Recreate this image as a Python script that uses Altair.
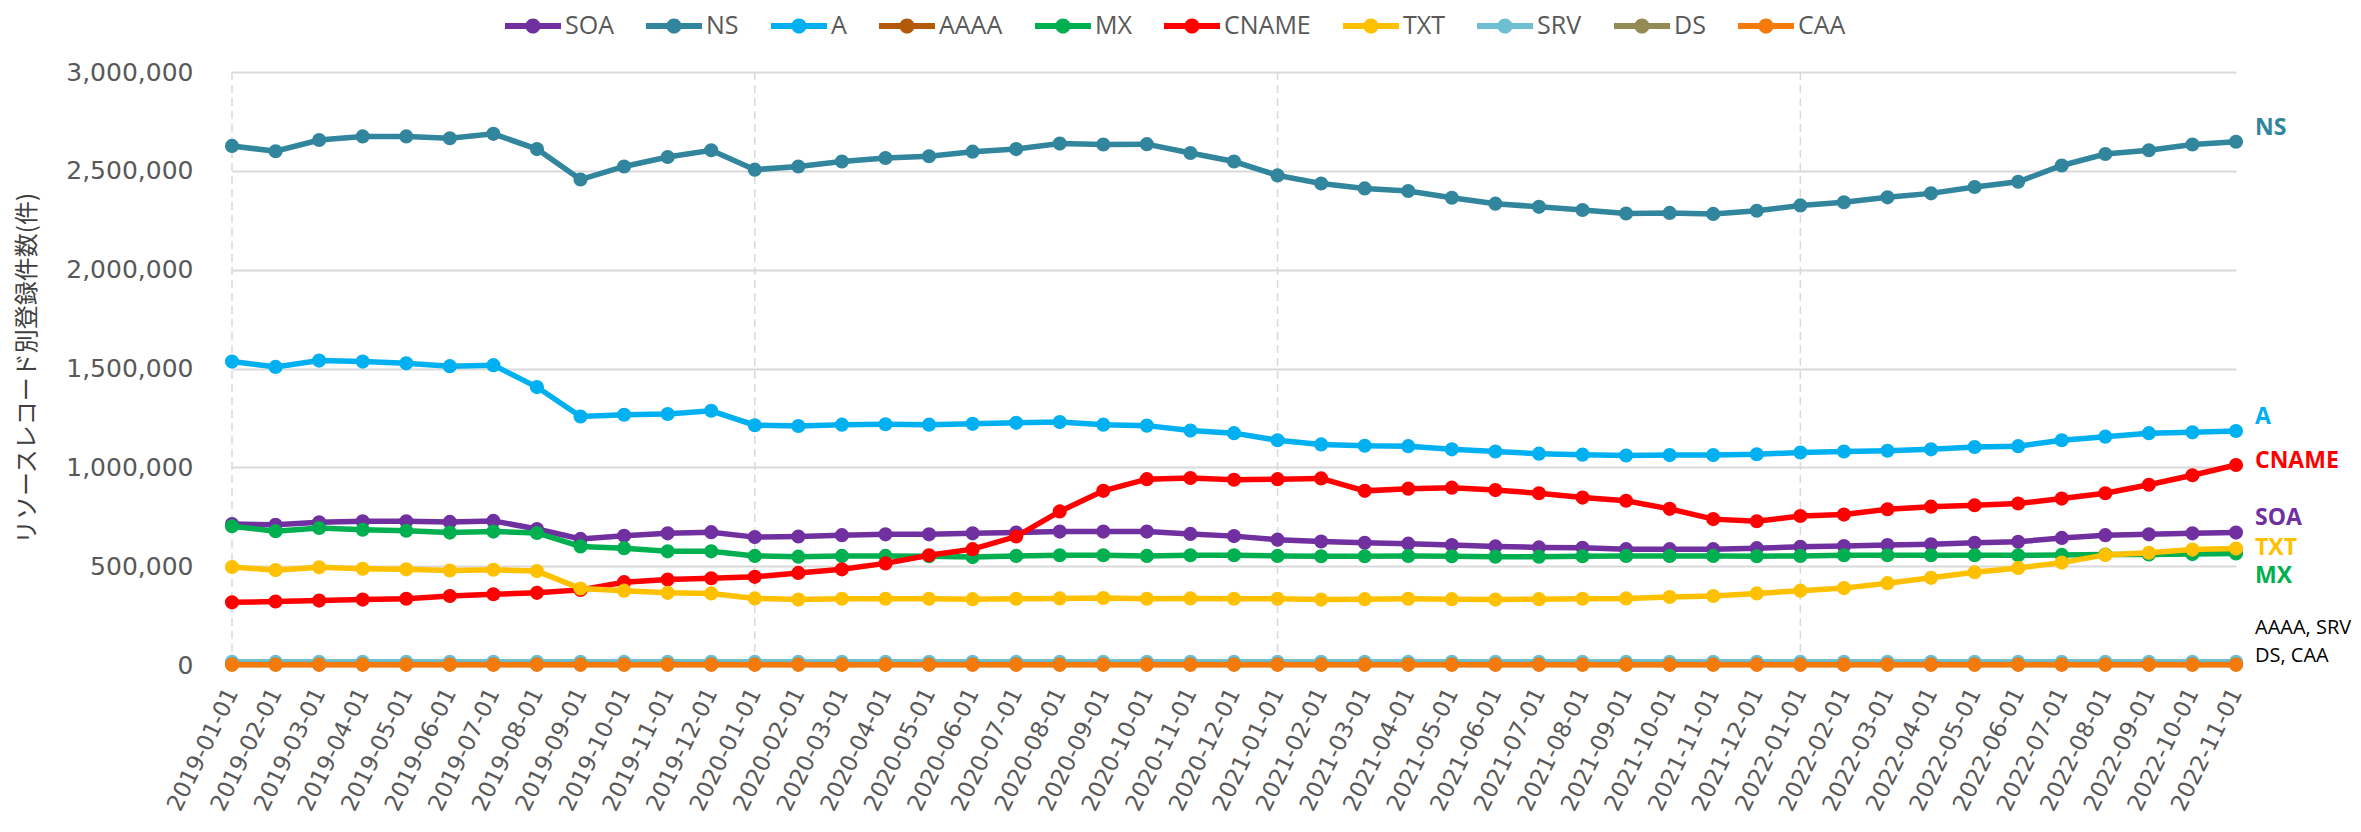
import altair as alt
import pandas as pd

dates = [
    "2019-01-01", "2019-02-01", "2019-03-01", "2019-04-01", "2019-05-01", "2019-06-01",
    "2019-07-01", "2019-08-01", "2019-09-01", "2019-10-01", "2019-11-01", "2019-12-01",
    "2020-01-01", "2020-02-01", "2020-03-01", "2020-04-01", "2020-05-01", "2020-06-01",
    "2020-07-01", "2020-08-01", "2020-09-01", "2020-10-01", "2020-11-01", "2020-12-01",
    "2021-01-01", "2021-02-01", "2021-03-01", "2021-04-01", "2021-05-01", "2021-06-01",
    "2021-07-01", "2021-08-01", "2021-09-01", "2021-10-01", "2021-11-01", "2021-12-01",
    "2022-01-01", "2022-02-01", "2022-03-01", "2022-04-01", "2022-05-01", "2022-06-01",
    "2022-07-01", "2022-08-01", "2022-09-01", "2022-10-01", "2022-11-01",
]

SOA = [713000, 709000, 722000, 727000, 727000, 724000, 729000, 688000, 638000, 654000, 666000, 672000,
       647000, 650000, 657000, 661000, 661000, 666000, 670000, 675000, 675000, 675000, 663000, 652000,
       634000, 625000, 618000, 614000, 607000, 600000, 595000, 593000, 586000, 586000, 586000, 591000,
       598000, 602000, 607000, 611000, 618000, 623000, 643000, 657000, 661000, 666000, 670000]
NS = [2626000, 2599000, 2656000, 2674000, 2674000, 2665000, 2687000, 2610000, 2456000, 2522000, 2570000, 2604000,
      2506000, 2522000, 2547000, 2565000, 2574000, 2597000, 2610000, 2638000, 2633000, 2635000, 2590000, 2547000,
      2477000, 2436000, 2411000, 2398000, 2364000, 2334000, 2318000, 2302000, 2284000, 2287000, 2282000, 2298000,
      2325000, 2341000, 2366000, 2386000, 2418000, 2445000, 2527000, 2585000, 2604000, 2633000, 2647000]
A = [1535000, 1508000, 1540000, 1535000, 1526000, 1512000, 1517000, 1406000, 1257000, 1266000, 1270000, 1286000,
     1213000, 1209000, 1216000, 1218000, 1216000, 1220000, 1225000, 1229000, 1216000, 1211000, 1186000, 1173000,
     1137000, 1116000, 1109000, 1107000, 1091000, 1080000, 1069000, 1064000, 1060000, 1062000, 1062000, 1066000,
     1075000, 1080000, 1084000, 1091000, 1103000, 1107000, 1137000, 1155000, 1173000, 1177000, 1184000]
AAAA = [9000, 9000, 9000, 9000, 9000, 9000, 9000, 9000, 9000, 9000, 9000, 9000,
        9000, 9000, 9000, 9000, 9000, 9000, 9000, 9000, 9000, 9000, 9000, 9000,
        9000, 9000, 9000, 9000, 9000, 9000, 9000, 9000, 9000, 9000, 9000, 9000,
        9000, 9000, 9000, 9000, 9000, 9000, 9000, 9000, 9000, 9000, 9000]
MX = [702000, 677000, 693000, 684000, 679000, 670000, 675000, 668000, 600000, 591000, 575000, 575000,
      552000, 548000, 552000, 552000, 550000, 546000, 552000, 555000, 555000, 552000, 555000, 555000,
      552000, 550000, 550000, 552000, 550000, 548000, 548000, 550000, 552000, 552000, 552000, 550000,
      552000, 555000, 555000, 555000, 555000, 555000, 557000, 559000, 559000, 561000, 564000]
CNAME = [317000, 321000, 326000, 331000, 335000, 349000, 358000, 365000, 380000, 419000, 432000, 439000,
         446000, 466000, 484000, 514000, 555000, 586000, 650000, 777000, 881000, 940000, 946000, 937000,
         940000, 944000, 881000, 892000, 897000, 885000, 869000, 847000, 831000, 790000, 738000, 727000,
         754000, 761000, 788000, 801000, 808000, 817000, 842000, 869000, 912000, 960000, 1012000]
TXT = [496000, 480000, 494000, 487000, 484000, 478000, 482000, 475000, 387000, 376000, 365000, 362000,
       337000, 331000, 335000, 335000, 335000, 333000, 335000, 337000, 339000, 335000, 337000, 335000,
       335000, 331000, 333000, 335000, 333000, 331000, 333000, 335000, 337000, 344000, 349000, 362000,
       376000, 389000, 414000, 441000, 469000, 491000, 518000, 557000, 568000, 584000, 589000]
SRV = [16000, 16000, 16000, 16000, 16000, 16000, 16000, 16000, 16000, 16000, 16000, 16000,
       16000, 16000, 16000, 16000, 16000, 16000, 16000, 16000, 16000, 16000, 16000, 16000,
       16000, 16000, 16000, 16000, 16000, 16000, 16000, 16000, 16000, 16000, 16000, 16000,
       16000, 16000, 16000, 16000, 16000, 16000, 16000, 16000, 16000, 16000, 16000]
DS = [3000, 3000, 3000, 3000, 3000, 3000, 3000, 3000, 3000, 3000, 3000, 3000,
      3000, 3000, 3000, 3000, 3000, 3000, 3000, 3000, 3000, 3000, 3000, 3000,
      3000, 3000, 3000, 3000, 3000, 3000, 3000, 3000, 3000, 3000, 3000, 3000,
      3000, 3000, 3000, 3000, 3000, 3000, 3000, 3000, 3000, 3000, 3000]
CAA = [1000, 1000, 1000, 1000, 1000, 1000, 1000, 1000, 1000, 1000, 1000, 1000,
       1000, 1000, 1000, 1000, 1000, 1000, 1000, 1000, 1000, 1000, 1000, 1000,
       1000, 1000, 1000, 1000, 1000, 1000, 1000, 1000, 1000, 1000, 1000, 1000,
       1000, 1000, 1000, 1000, 1000, 1000, 1000, 1000, 1000, 1000, 1000]

series_names = ["SOA", "NS", "A", "AAAA", "MX", "CNAME", "TXT", "SRV", "DS", "CAA"]
series_values = [SOA, NS, A, AAAA, MX, CNAME, TXT, SRV, DS, CAA]
series_colors = ["#7030A0", "#31859C", "#00B0F0", "#B4580A", "#00B050",
                 "#FF0000", "#FFC000", "#6FBFD3", "#948A54", "#F47A0C"]

year_starts = ["2019-01-01", "2020-01-01", "2021-01-01", "2022-01-01"]

end_labels = ["NS", "A", "CNAME", "SOA", "TXT", "MX"]
end_label_values = [2717000, 1255000, 1032000, 742000, 594000, 450000]
end_label_colors = ["#31859C", "#00B0F0", "#FF0000", "#7030A0", "#FFC000", "#00B050"]
small_labels = ["AAAA, SRV", "DS, CAA"]
small_label_values = [187000, 46000]

y_ticks = [0, 500000, 1000000, 1500000, 2000000, 2500000, 3000000]

rows = []
for name, vals in zip(series_names, series_values):
    for d, v in zip(dates, vals):
        rows.append({"date": d, "series": name, "value": v})
df = pd.DataFrame(rows)

last_date = dates[-1]
df_lab = pd.DataFrame({"date": [last_date] * len(end_labels), "label": end_labels,
                       "value": end_label_values, "col": end_label_colors})
df_small = pd.DataFrame({"date": [last_date] * len(small_labels), "label": small_labels,
                         "value": small_label_values})
df_years = pd.DataFrame({"date": year_starts})

x_enc = alt.X(
    "date:O",
    scale=alt.Scale(type="point", padding=0, domain=dates),
    sort=dates,
    axis=alt.Axis(
        title=None, labelAngle=296, labelAlign="right", labelBaseline="middle",
        labelFont="DejaVu Sans", labelFontSize=23, labelColor="#595959",
        labelPadding=24, ticks=False, domain=False, grid=False, labelOverlap=False,
    ),
)
y_enc = alt.Y(
    "value:Q",
    scale=alt.Scale(domain=[0, 3000000], nice=False, zero=True),
    axis=alt.Axis(
        values=y_ticks, format=",d", labelFont="DejaVu Sans", labelFontSize=25,
        labelColor="#595959", labelPadding=39, ticks=False, domain=False,
        gridColor="#D9D9D9", gridWidth=2,
        title="リソースレコード別登録件数(件)", titleFont="Noto Sans CJK JP",
        titleFontSize=24, titleFontWeight="normal", titleColor="#404040",
        titleAngle=270, titleX=-205, titleY=296, titleAlign="center",
        titleBaseline="middle",
    ),
)

color_scale = alt.Scale(domain=series_names, range=series_colors)
legend_symbol = ("M-1,-0.11L1,-0.11L1,0.11L-1,0.11Z"
                 "M-0.27,0A0.27,0.27 0 1,1 0.27,0A0.27,0.27 0 1,1 -0.27,0Z")
legend = alt.Legend(
    title=None, orient="none", legendX=273, legendY=-74, direction="horizontal",
    columns=10, symbolType=legend_symbol, symbolSize=3136, symbolStrokeWidth=0,
    symbolOpacity=1, labelFont="Open Sans", labelFontSize=25,
    labelColor="#595959", columnPadding=32, labelOffset=4, padding=0,
)

rules = alt.Chart(df_years).mark_rule(
    color="#D9D9D9", strokeWidth=1.5, strokeDash=[8, 5]
).encode(x=x_enc)

layers = [rules]
for name, col in zip(series_names, series_colors):
    base = alt.Chart(df).transform_filter(alt.datum.series == name)
    line = base.mark_line(strokeWidth=5.5, color=col).encode(x=x_enc, y=y_enc)
    pts = base.mark_point(filled=True, size=200, opacity=1).encode(
        x=x_enc, y=y_enc,
        color=alt.Color("series:N", scale=color_scale, legend=legend),
    )
    layers += [line, pts]

labels = alt.Chart(df_lab).mark_text(
    align="left", baseline="middle", dx=19, font="Open Sans",
    fontSize=23, fontWeight="bold",
).encode(x=x_enc, y=y_enc, text="label:N", color=alt.Color("col:N", scale=None))

small = alt.Chart(df_small).mark_text(
    align="left", baseline="middle", dx=19, font="Open Sans",
    fontSize=20, color="#000000",
).encode(x=x_enc, y=y_enc, text="label:N")

layers += [labels, small]

chart = alt.layer(*layers).properties(
    width=2004, height=593,
    autosize=alt.AutoSizeParams(type="none"),
    padding={"left": 224, "top": 64, "right": 115, "bottom": 153},
    background="white",
).configure_view(stroke=None)

chart.save("out.html", embed_options={"renderer": "svg", "actions": False})
